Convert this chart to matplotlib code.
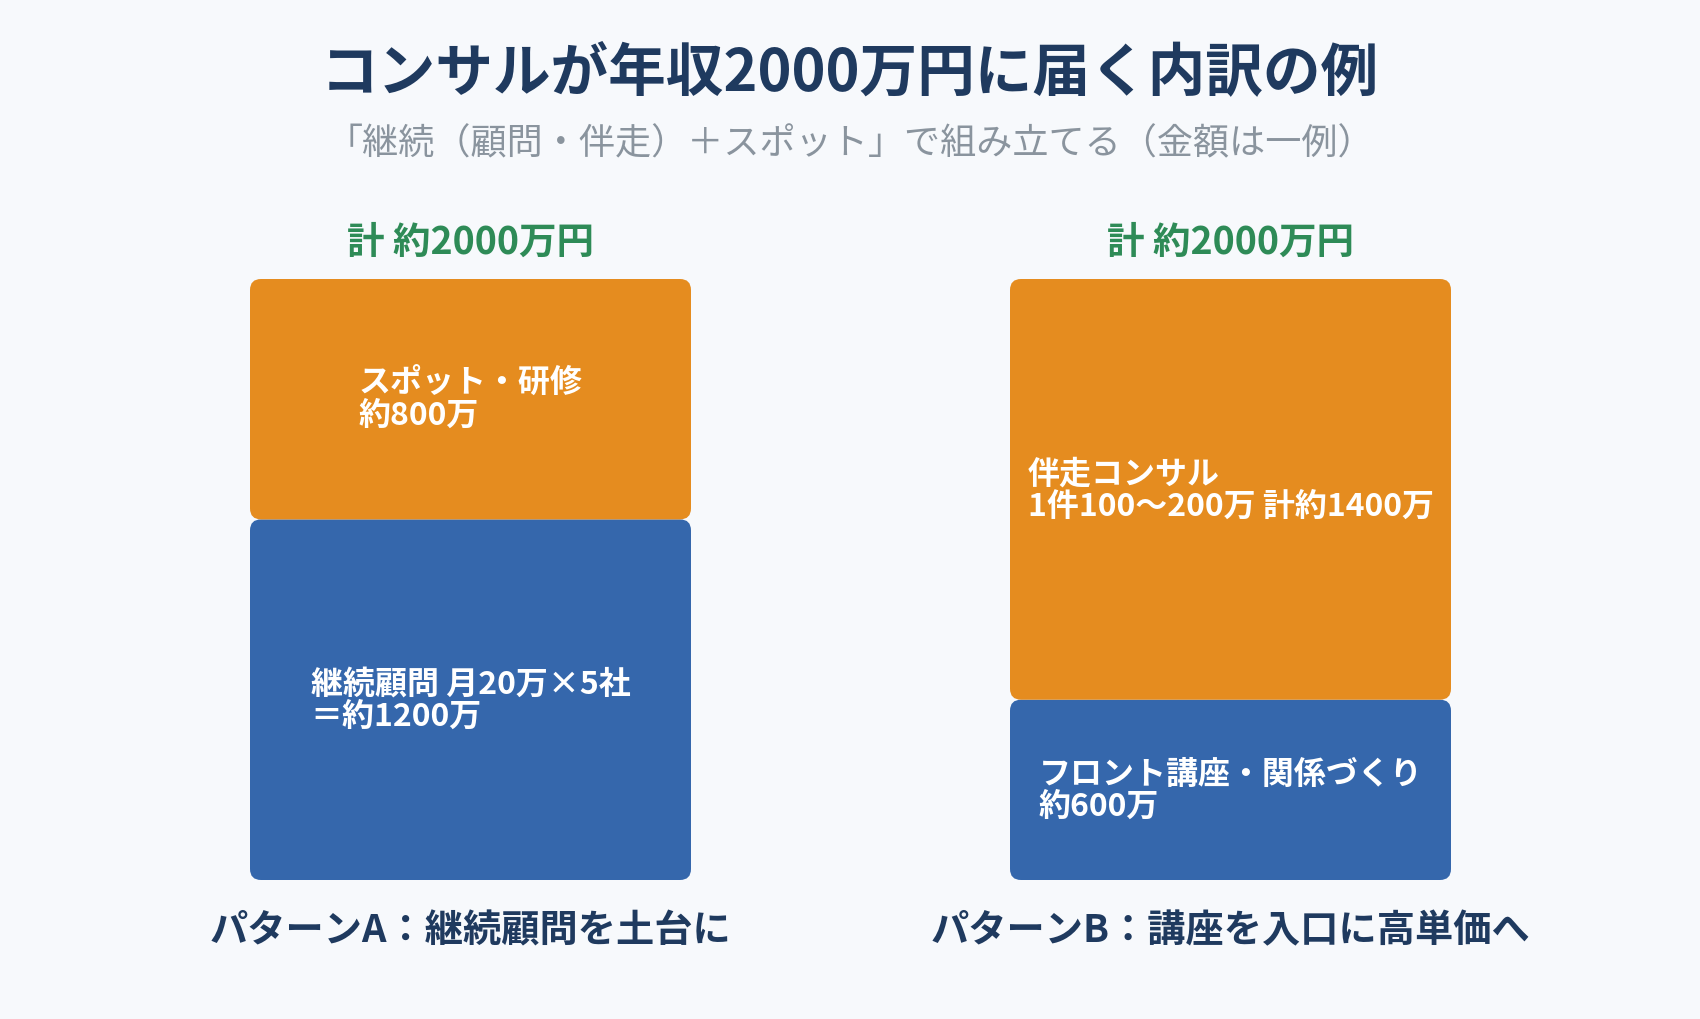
import matplotlib
matplotlib.use("Agg")
import matplotlib.pyplot as plt
from matplotlib.patches import FancyBboxPatch

plt.rcParams['font.family'] = ['Noto Sans CJK JP', 'DejaVu Sans']

# ---- data ----
patterns = ['パターンA：継続顧問を土台に', 'パターンB：講座を入口に高単価へ']
base_values = [1200, 600]
top_values = [800, 1400]
base_labels = ['継続顧問 月20万×5社\n＝約1200万', 'フロント講座・関係づくり\n約600万']
top_labels = ['スポット・研修\n約800万', '伴走コンサル\n1件100〜200万 計約1400万']
title = 'コンサルが年収2000万円に届く内訳の例'
subtitle = '「継続（顧問・伴走）＋スポット」で組み立てる（金額は一例）'

# ---- style ----
BG = '#F7F9FC'
NAVY = '#1F3A5F'
GREEN = '#2E8B57'
GRAY = '#8A949E'
ORANGE = '#E58C1F'
BLUE = '#3567AC'

W, H = 1700, 1020
fig = plt.figure(figsize=(W / 100, H / 100), dpi=100, facecolor=BG)

# axes placed so that bars land where the reference draws them
ax_left = 90.5 / W
ax_right = 1610.5 / W
ax_bottom = (H - 881) / H
ax_top = (H - 280) / H
ax = fig.add_axes([ax_left, ax_bottom, ax_right - ax_left, ax_top - ax_bottom])
ax.set_facecolor(BG)
ax.set_xlim(-0.5, len(patterns) - 0.5)
ymax = max(b + t for b, t in zip(base_values, top_values))
ax.set_ylim(0, ymax)
ax.axis('off')

# pixel scale of data units
p0 = ax.transData.transform((0, 0))
px_x = ax.transData.transform((1, 0))[0] - p0[0]
px_y = ax.transData.transform((0, 1))[1] - p0[1]

bar_w = 441 / px_x
radius_px = 11
rounding = radius_px / px_x
aspect = px_x / px_y

def rbar(x, y0, h, color):
    p = FancyBboxPatch((x - bar_w / 2, y0), bar_w, h,
                       boxstyle=f'round,pad=0,rounding_size={rounding}',
                       mutation_aspect=aspect, facecolor=color,
                       edgecolor='none', linewidth=0)
    ax.add_patch(p)

for i, (b, t) in enumerate(zip(base_values, top_values)):
    rbar(i, 0, b, BLUE)
    rbar(i, b, t, ORANGE)
    ax.text(i, b / 2, base_labels[i], ha='center', va='center',
            multialignment='left', color='white', fontsize=23,
            fontweight='bold', linespacing=1.0)
    ax.text(i, b + t / 2, top_labels[i], ha='center', va='center',
            multialignment='left', color='white', fontsize=23,
            fontweight='bold', linespacing=1.0)
    ax.annotate(f'計 約{b + t}万円', xy=(i, b + t), xytext=(0, 27.5),
                textcoords='offset points', ha='center', va='center',
                color=GREEN, fontsize=27, fontweight='bold')
    ax.annotate(patterns[i], xy=(i, 0), xytext=(0, -36),
                textcoords='offset points', ha='center', va='center',
                color=NAVY, fontsize=27.5, fontweight='bold')

fig.text(0.5, 1 - 73 / H, title, ha='center', va='center',
         color=NAVY, fontsize=41.5, fontweight='bold')
fig.text(0.5, 1 - 144 / H, subtitle, ha='center', va='center',
         color=GRAY, fontsize=26)

fig.savefig('out.png', dpi=100, facecolor=BG)
